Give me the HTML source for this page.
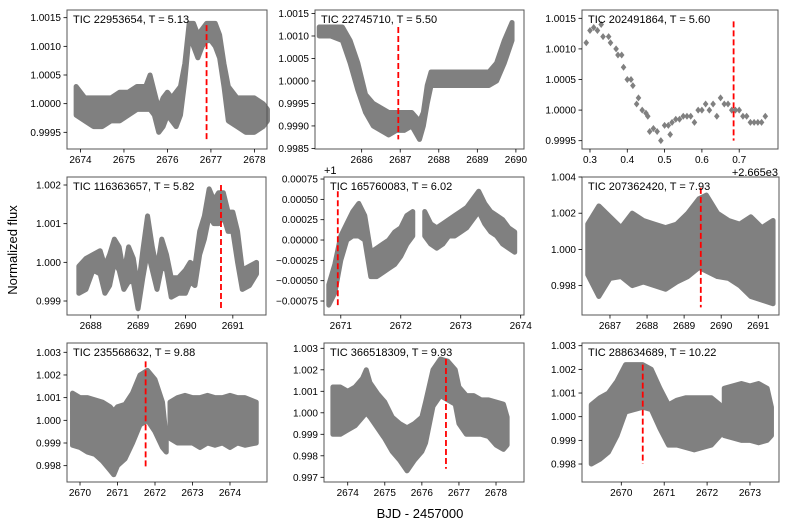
<!DOCTYPE html>
<html><head><meta charset="utf-8">
<style>
html,body{margin:0;padding:0;background:#fff;}
svg{display:block;font-family:"Liberation Sans",sans-serif;}
</style></head>
<body>
<svg id="fig" width="789" height="528" viewBox="0 0 789 528" xmlns="http://www.w3.org/2000/svg">
<text x="17" y="250" font-size="13" text-anchor="middle" transform="rotate(-90 17 250)">Normalized flux</text>
<text x="420" y="518" font-size="13" text-anchor="middle">BJD - 2457000</text>
<text x="778" y="176" font-size="11" text-anchor="end">+2.665e3</text>
<text x="324" y="174" font-size="11">+1</text>
</svg>
<script>
// ---- Panel 1 data ----
const p1Times=[2673.9,2674.1,2674.3,2674.5,2674.7,2674.9,2675.1,2675.3,2675.5,2675.6,2675.7,2675.8,2675.9,2676.0,2676.1,2676.2,2676.3,2676.4,2676.5,2676.6,2676.7,2676.8,2676.9,2677.0,2677.1,2677.2,2677.3,2677.4,2677.6,2677.8,2678.0,2678.2,2678.3];
const p1Low=[0.9998,0.9997,0.9996,0.9996,0.9997,0.9997,0.9998,0.9999,0.9999,0.9999,0.9998,0.9995,0.9996,0.9998,0.9997,0.9996,0.9998,1.0004,1.0012,1.0010,1.0008,1.0010,1.0011,1.0011,1.0010,1.0008,1.0003,0.9997,0.9996,0.9995,0.9995,0.9996,0.9997];
const p1High=[1.0003,1.0001,1.0001,1.0001,1.0001,1.0002,1.0002,1.0003,1.0003,1.0005,1.0002,0.9999,1.0001,1.0002,1.0001,1.0002,1.0003,1.0007,1.0014,1.0014,1.0012,1.0013,1.0014,1.0014,1.0014,1.0012,1.0007,1.0003,1.0001,1.0001,1.0001,1.0000,0.9999];
const p1XTicks=[2674,2675,2676,2677,2678];
const p1YTicks=[0.9995,1.0000,1.0005,1.0010,1.0015];
const p1YLabels=["0.9995","1.0000","1.0005","1.0010","1.0015"];
const p1Mark=[2676.9,0.99937,1.00137];
// ---- Panel 2 data ----
const p2Times=[2684.9,2685.2,2685.5,2685.7,2685.9,2686.1,2686.3,2686.5,2686.7,2686.9,2687.1,2687.3,2687.5,2687.6,2687.7,2687.8,2688.0,2688.5,2689.0,2689.3,2689.5,2689.7,2689.9];
const p2Low=[1.0010,1.0010,1.0009,1.0004,0.9998,0.9993,0.9990,0.9989,0.9988,0.9989,0.9989,0.9990,0.9987,0.9990,0.9995,0.9999,0.9999,0.9999,0.9999,0.9999,1.0000,1.0004,1.0009];
const p2High=[1.0012,1.0012,1.0012,1.0009,1.0004,0.9997,0.9995,0.9994,0.9993,0.9993,0.9993,0.9993,0.9991,0.9993,0.9999,1.0002,1.0002,1.0002,1.0002,1.0002,1.0004,1.0009,1.0013];
const p2XTicks=[2686,2687,2688,2689,2690];
const p2YTicks=[0.9985,0.9990,0.9995,1.0000,1.0005,1.0010,1.0015];
const p2YLabels=["0.9985","0.9990","0.9995","1.0000","1.0005","1.0010","1.0015"];
const p2Mark=[2686.95,0.9987,1.0012];
// ---- Panel 3 data ----
const p3Times=[0.29,0.30,0.31,0.32,0.33,0.335,0.35,0.355,0.37,0.375,0.385,0.39,0.40,0.41,0.415,0.425,0.43,0.44,0.45,0.455,0.46,0.47,0.48,0.49,0.50,0.51,0.515,0.52,0.53,0.54,0.55,0.56,0.57,0.58,0.59,0.60,0.61,0.62,0.63,0.64,0.65,0.66,0.67,0.68,0.69,0.70,0.71,0.72,0.73,0.74,0.75,0.76,0.77];
const p3Flux=[1.0011,1.0013,1.00135,1.0013,1.0014,1.0012,1.0012,1.0011,1.0010,1.0009,1.0009,1.0007,1.0005,1.0005,1.0004,1.0001,1.0002,1.0000,0.99995,0.9999,0.99965,0.9997,0.99965,0.9995,0.99975,0.99975,0.9996,0.9998,0.99985,0.99985,0.9999,0.9999,0.9999,0.9998,1.0000,1.0000,1.0001,1.0000,1.0001,0.9999,1.0002,1.0001,1.0001,1.0000,1.0000,1.0000,0.9999,0.9999,0.9998,0.9998,0.9998,0.9998,0.9999];
const p3XTicks=[0.3,0.4,0.5,0.6,0.7];
const p3XLabels=["0.3","0.4","0.5","0.6","0.7"];
const p3YTicks=[0.9995,1.0000,1.0005,1.0010,1.0015];
const p3YLabels=["0.9995","1.0000","1.0005","1.0010","1.0015"];
const p3Mark=[0.685,0.9995,1.00145];
// ---- Panel 4 data ----
const p4Times=[2687.75,2687.9,2688.05,2688.2,2688.3,2688.4,2688.5,2688.6,2688.7,2688.8,2688.9,2689.0,2689.1,2689.2,2689.3,2689.4,2689.5,2689.6,2689.7,2689.85,2690.0,2690.1,2690.2,2690.3,2690.4,2690.5,2690.6,2690.7,2690.8,2690.9,2691.0,2691.1,2691.2,2691.35,2691.5];
const p4Low=[0.9992,0.9993,0.9998,0.9997,0.9992,0.9994,1.0000,0.9998,0.9993,0.9995,0.9995,0.9988,0.9996,1.0003,0.9998,0.9993,0.9999,0.9998,0.9991,0.9992,0.9992,0.9995,0.9994,1.0002,1.0006,1.0012,1.0010,1.0010,1.0012,1.0008,1.0008,1.0000,0.9993,0.9994,0.9997];
const p4High=[0.9999,1.0001,1.0002,1.0003,0.9999,1.0002,1.0006,1.0004,0.9997,1.0004,1.0001,0.9993,1.0003,1.0012,1.0004,0.9998,1.0006,1.0002,0.9996,0.9996,0.9998,1.0000,0.9999,1.0008,1.0012,1.0019,1.0016,1.0018,1.0018,1.0013,1.0013,1.0008,0.9998,0.9999,1.0000];
const p4XTicks=[2688,2689,2690,2691];
const p4YTicks=[0.999,1.000,1.001,1.002];
const p4YLabels=["0.999","1.000","1.001","1.002"];
const p4Mark=[2690.75,0.9988,1.002];
// ---- Panel 5 data ----
const p5Times=[2670.8,2670.9,2671.0,2671.1,2671.2,2671.3,2671.4,2671.5,2671.6,2671.7,2671.8,2671.9,2672.0,2672.1,2672.2,2672.4,2672.5,2672.6,2672.7,2672.8,2672.9,2673.0,2673.1,2673.2,2673.3,2673.4,2673.5,2673.6,2673.7,2673.8,2673.9];
const p5Low=[0.99920,0.99935,0.99975,1.00000,1.00005,1.00005,1.00000,0.99955,0.99955,0.99960,0.99965,0.99970,0.99980,0.99995,1.00005,1.00005,0.99995,0.99990,0.99995,1.00005,1.00005,1.00010,1.00015,1.00025,1.00035,1.00020,1.00010,1.00005,0.99995,0.99990,0.99985];
const p5High=[0.99945,0.99970,1.00005,1.00020,1.00035,1.00045,1.00030,0.99985,0.99990,0.99995,1.00000,1.00010,1.00015,1.00030,1.00035,1.00035,1.00020,1.00015,1.00020,1.00025,1.00030,1.00035,1.00040,1.00050,1.00060,1.00045,1.00035,1.00030,1.00025,1.00015,1.00010];
const p5XTicks=[2671,2672,2673,2674];
const p5YTicks=[0.99925,0.9995,0.99975,1.0,1.00025,1.0005,1.00075];
const p5YLabels=["\u22120.00075","\u22120.00050","\u22120.00025","0.00000","0.00025","0.00050","0.00075"];
const p5Mark=[2670.95,0.9992,1.0006];
// ---- Panel 6 data ----
const p6Times=[2686.4,2686.7,2687.0,2687.3,2687.6,2687.9,2688.2,2688.5,2688.8,2689.1,2689.4,2689.6,2689.9,2690.2,2690.5,2690.8,2691.1,2691.4];
const p6Low=[0.9986,0.9974,0.9984,0.9985,0.9980,0.9982,0.9980,0.9978,0.9982,0.9985,0.9990,0.9988,0.9985,0.9984,0.9980,0.9974,0.9972,0.9970];
const p6High=[1.0014,1.0024,1.0018,1.0012,1.0020,1.0016,1.0014,1.0012,1.0014,1.0020,1.0028,1.0030,1.0020,1.0016,1.0014,1.0018,1.0012,1.0016];
const p6XTicks=[2687,2688,2689,2690,2691];
const p6YTicks=[0.998,1.000,1.002,1.004];
const p6YLabels=["0.998","1.000","1.002","1.004"];
const p6Mark=[2689.45,0.9968,1.0034];
// ---- Panel 7 data ----
const p7Times=[2669.8,2670.0,2670.2,2670.4,2670.6,2670.8,2670.9,2671.0,2671.2,2671.4,2671.6,2671.8,2672.0,2672.2,2672.3,2672.4,2672.6,2672.8,2673.0,2673.2,2673.4,2673.6,2673.8,2674.0,2674.2,2674.4,2674.7];
const p7Low=[0.9989,0.9988,0.9986,0.9985,0.9982,0.9978,0.9976,0.9980,0.9983,0.9990,0.9998,1.0000,0.9995,0.9988,0.9986,0.9992,0.9990,0.9990,0.9990,0.9988,0.9990,0.9989,0.9990,0.9988,0.9990,0.9989,0.9990];
const p7High=[1.0012,1.0010,1.0010,1.0009,1.0008,1.0006,1.0004,1.0006,1.0007,1.0012,1.0020,1.0022,1.0018,1.0008,0.9992,1.0008,1.0010,1.0011,1.0010,1.0010,1.0011,1.0010,1.0010,1.0011,1.0010,1.0010,1.0008];
const p7Gaps=[2672.3];
const p7XTicks=[2670,2671,2672,2673,2674];
const p7YTicks=[0.998,0.999,1.000,1.001,1.002,1.003];
const p7YLabels=["0.998","0.999","1.000","1.001","1.002","1.003"];
const p7Mark=[2671.75,0.9979,1.0026];
// ---- Panel 8 data ----
const p8Times=[2673.6,2673.8,2674.0,2674.2,2674.4,2674.5,2674.6,2674.8,2675.0,2675.2,2675.4,2675.6,2675.8,2676.0,2676.1,2676.3,2676.5,2676.7,2676.9,2677.0,2677.2,2677.4,2677.6,2677.8,2678.0,2678.2,2678.3];
const p8Low=[0.9990,0.9990,0.9992,0.9994,0.9998,1.0000,0.9998,0.9993,0.9988,0.9982,0.9978,0.9973,0.9978,0.9982,0.9986,1.0003,1.0008,1.0006,1.0004,0.9995,0.9990,0.9990,0.9990,0.9989,0.9985,0.9983,0.9985];
const p8High=[1.0012,1.0012,1.0010,1.0012,1.0016,1.0020,1.0014,1.0009,1.0005,0.9998,0.9995,0.9993,0.9995,0.9998,1.0005,1.0020,1.0025,1.0024,1.0020,1.0012,1.0008,1.0008,1.0006,1.0006,1.0005,1.0004,0.9998];
const p8XTicks=[2674,2675,2676,2677,2678];
const p8YTicks=[0.997,0.998,0.999,1.000,1.001,1.002,1.003];
const p8YLabels=["0.997","0.998","0.999","1.000","1.001","1.002","1.003"];
const p8Mark=[2676.65,0.9974,1.0025];
// ---- Panel 9 data ----
const p9Times=[2669.3,2669.5,2669.7,2669.9,2670.1,2670.3,2670.5,2670.7,2670.9,2671.1,2671.3,2671.5,2671.7,2671.9,2672.1,2672.3,2672.4,2672.6,2672.8,2673.0,2673.2,2673.4,2673.5];
const p9Low=[0.9980,0.9982,0.9985,0.9992,1.0002,1.0003,1.0004,1.0003,0.9995,0.9988,0.9988,0.9987,0.9986,0.9987,0.9988,0.9992,0.9992,0.9991,0.9990,0.9990,0.9989,0.9990,0.9992];
const p9High=[1.0005,1.0008,1.0010,1.0015,1.0022,1.0022,1.0022,1.0020,1.0012,1.0005,1.0007,1.0008,1.0008,1.0008,1.0008,1.0005,1.0012,1.0013,1.0014,1.0013,1.0014,1.0012,1.0004];
const p9Gaps=[2672.3];
const p9XTicks=[2670,2671,2672,2673];
const p9YTicks=[0.998,0.999,1.000,1.001,1.002,1.003];
const p9YLabels=["0.998","0.999","1.000","1.001","1.002","1.003"];
const p9Mark=[2670.5,0.9980,1.0022];

const NS="http://www.w3.org/2000/svg";
const svg=document.getElementById('fig');
function mk(tag,attrs,parent){const e=document.createElementNS(NS,tag);for(const k in attrs)e.setAttribute(k,attrs[k]);(parent||svg).appendChild(e);return e;}

const panels=[
 {name:'tic-22953654',title:'TIC 22953654, T = 5.13',box:[67,10,267,149],xr:[2673.69,2678.29],yr:[0.999209,1.001634],t:p1Times,lo:p1Low,hi:p1High,xt:p1XTicks,yt:p1YTicks,yl:p1YLabels,mark:p1Mark,gaps:[]},
 {name:'tic-22745710',title:'TIC 22745710, T = 5.50',box:[315,10,524,149],xr:[2684.79,2690.21],yr:[0.998487,1.001578],t:p2Times,lo:p2Low,hi:p2High,xt:p2XTicks,yt:p2YTicks,yl:p2YLabels,mark:p2Mark,gaps:[]},
 {name:'tic-202491864',title:'TIC 202491864, T = 5.60',box:[582,10,778,149],xr:[0.2786,0.804],yr:[0.999364,1.001636],t:p3Times,f:p3Flux,xt:p3XTicks,xl:p3XLabels,yt:p3YTicks,yl:p3YLabels,mark:p3Mark,gaps:[]},
 {name:'tic-116363657',title:'TIC 116363657, T = 5.82',box:[67,177,266,315],xr:[2687.50,2691.70],yr:[0.998638,1.002207],t:p4Times,lo:p4Low,hi:p4High,xt:p4XTicks,yt:p4YTicks,yl:p4YLabels,mark:p4Mark,gaps:[]},
 {name:'tic-165760083',title:'TIC 165760083, T = 6.02',box:[324,177,524,315],xr:[2670.72,2674.055],yr:[0.999078,1.000775],t:p5Times,lo:p5Low,hi:p5High,xt:p5XTicks,yt:p5YTicks,yl:p5YLabels,mark:p5Mark,gaps:[2672.2]},
 {name:'tic-207362420',title:'TIC 207362420, T = 7.93',box:[582,177,779,315],xr:[2686.245,2691.56],yr:[0.996377,1.004],t:p6Times,lo:p6Low,hi:p6High,xt:p6XTicks,yt:p6YTicks,yl:p6YLabels,mark:p6Mark,gaps:[]},
 {name:'tic-235568632',title:'TIC 235568632, T = 9.88',box:[67,343,267,482],xr:[2669.653,2674.987],yr:[0.99728,1.00341],t:p7Times,lo:p7Low,hi:p7High,xt:p7XTicks,yt:p7YTicks,yl:p7YLabels,mark:p7Mark,gaps:p7Gaps},
 {name:'tic-366518309',title:'TIC 366518309, T = 9.93',box:[324,343,524,482],xr:[2673.36,2678.755],yr:[0.996781,1.003247],t:p8Times,lo:p8Low,hi:p8High,xt:p8XTicks,yt:p8YTicks,yl:p8YLabels,mark:p8Mark,gaps:[]},
 {name:'tic-288634689',title:'TIC 288634689, T = 10.22',box:[582,343,779,482],xr:[2669.084,2673.676],yr:[0.99724,1.003114],t:p9Times,lo:p9Low,hi:p9High,xt:p9XTicks,yt:p9YTicks,yl:p9YLabels,mark:p9Mark,gaps:p9Gaps}
];

panels.forEach(p=>{
  const [x0,y0,x1,y1]=p.box;
  const sx=v=>x0+(v-p.xr[0])/(p.xr[1]-p.xr[0])*(x1-x0);
  const sy=v=>y1-(v-p.yr[0])/(p.yr[1]-p.yr[0])*(y1-y0);
  const g=mk('g',{});
  
  
  // data
  if(p.f){
    p.t.forEach((t,i)=>{
      const cx=sx(t),cy=sy(p.f[i]);
      const d=mk('polygon',{points:`${cx},${cy-3.5} ${cx+2.8},${cy} ${cx},${cy+3.5} ${cx-2.8},${cy}`,fill:'#808080'},g);
      
      
    });
  } else {
    let segs=[[]];
    p.t.forEach((t,i)=>{segs[segs.length-1].push(i); if(p.gaps.includes(t)) segs.push([]);});
    segs.forEach(s=>{
      if(!s.length)return;
      const pts=s.map(i=>`${sx(p.t[i])},${sy(p.hi[i])}`).concat(s.slice().reverse().map(i=>`${sx(p.t[i])},${sy(p.lo[i])}`));
      const b=mk('polygon',{points:pts.join(' '),fill:'#808080',stroke:'#808080','stroke-width':5,'stroke-linejoin':'round'},g);
      
      
    });
  }
  // marker
  const m=mk('line',{x1:sx(p.mark[0]),x2:sx(p.mark[0]),y1:sy(p.mark[2]),y2:sy(p.mark[1]),stroke:'#ff0000','stroke-width':1.8,'stroke-dasharray':'6,3'},g);
  
  
  // frame
  const r=mk('rect',{x:x0,y:y0,width:x1-x0,height:y1-y0,fill:'none',stroke:'#555','stroke-width':1},g);
  
  
  // x ticks
  p.xt.forEach((v,i)=>{
    const x=sx(v);
    mk('line',{x1:x,x2:x,y1:y1,y2:y1+3.5,stroke:'#000','stroke-width':0.8},g);
    const t=mk('text',{x:x,y:y1+14,'font-size':10,'text-anchor':'middle'},g);
    t.textContent=p.xl?p.xl[i]:String(v);
    
    
  });
  p.yt.forEach((v,i)=>{
    const y=sy(v);
    mk('line',{x1:x0-3.5,x2:x0,y1:y,y2:y,stroke:'#000','stroke-width':0.8},g);
    const t=mk('text',{x:x0-6,y:y+3.5,'font-size':10,'text-anchor':'end'},g);
    t.textContent=p.yl[i];
    
    
  });
  const tt=mk('text',{x:x0+6,y:y0+13,'font-size':11},g);
  tt.textContent=p.title;
  
  
});
</script>
</body></html>
